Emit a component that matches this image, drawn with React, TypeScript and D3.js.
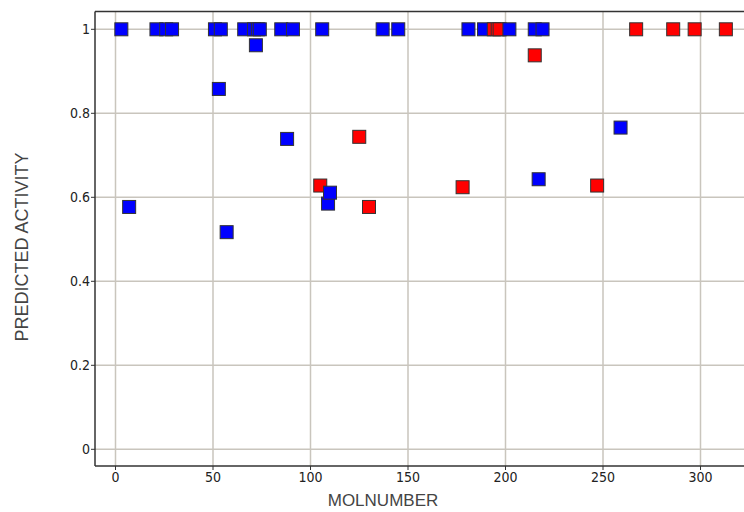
import React from "react";
import * as d3 from "d3";

// Molecule index vs predicted activity, split by class
const blueMol = [3, 7, 21, 26, 29, 51, 53, 54, 57, 66, 71, 72, 73, 74, 85, 88, 91, 106, 109, 110, 137, 145, 181, 189, 202, 215, 217, 219, 259];
const blueAct = [1, 0.577, 1, 1, 1, 1, 0.858, 1, 0.517, 1, 1, 0.962, 1, 1, 1, 0.739, 1, 1, 0.585, 0.611, 1, 1, 1, 1, 1, 1, 0.643, 1, 0.766];
const redMol = [105, 125, 130, 178, 194, 196, 197, 215, 247, 267, 286, 297, 313];
const redAct = [0.628, 0.744, 0.577, 0.624, 1, 1, 1, 0.938, 0.628, 1, 1, 1, 1];

const xTicks = [0, 50, 100, 150, 200, 250, 300];
const yTicks = [0, 0.2, 0.4, 0.6, 0.8, 1];
const yTickLabels = ["0", "0.2", "0.4", "0.6", "0.8", "1"];

const W = 744;
const H = 512;
const frameLeft = 95;
const frameTop = 11.5;
const frameBottom = 466;
const frameRight = 770;

const tickFont = "'Liberation Sans Narrow', 'DejaVu Sans Condensed', 'Arial Narrow', sans-serif";
const titleFont = "'Liberation Sans', Arial, sans-serif";

export default function App() {
  const x = d3.scaleLinear().domain([0, 300]).range([115.5, 700.5]);
  const y = d3.scaleLinear().domain([0, 1]).range([449.3, 29.3]);

  const points = [
    ...blueMol.map((m, i) => ({ m, a: blueAct[i], c: "#0000ff" })),
    ...redMol.map((m, i) => ({ m, a: redAct[i], c: "#ff0000" })),
  ].sort((p, q) => d3.ascending(p.m, q.m));

  const s = 13;

  return (
    <svg
      width={W}
      height={H}
      style={{ position: "absolute", left: 0, top: 0, background: "#fff", display: "block" }}
    >
      <defs>
        <clipPath id="plotArea">
          <rect x={frameLeft} y={frameTop} width={frameRight - frameLeft} height={frameBottom - frameTop} />
        </clipPath>
      </defs>

      {/* grid */}
      <g stroke="#c9c5bd" strokeWidth={1.5}>
        {xTicks.map((t) => (
          <line key={"gx" + t} x1={x(t)} x2={x(t)} y1={frameTop} y2={frameBottom} />
        ))}
        {yTicks.map((t) => (
          <line key={"gy" + t} x1={frameLeft} x2={frameRight} y1={y(t)} y2={y(t)} />
        ))}
      </g>

      {/* frame */}
      <g stroke="#333" strokeWidth={1.5} fill="none">
        <line x1={frameLeft} x2={frameLeft} y1={frameTop} y2={frameBottom} />
        <line x1={frameLeft} x2={frameRight} y1={frameBottom} y2={frameBottom} />
        <line x1={frameLeft} x2={frameRight} y1={frameTop} y2={frameTop} />
      </g>

      {/* ticks */}
      <g stroke="#333" strokeWidth={1}>
        {xTicks.map((t) => (
          <line key={"tx" + t} x1={x(t)} x2={x(t)} y1={frameBottom} y2={frameBottom + 4} />
        ))}
        {yTicks.map((t) => (
          <line key={"ty" + t} x1={frameLeft - 4} x2={frameLeft} y1={y(t)} y2={y(t)} />
        ))}
      </g>

      {/* tick labels */}
      <g fontFamily={tickFont} fontSize={14} fill="#222">
        {xTicks.map((t) => (
          <text key={"lx" + t} x={x(t)} y={482} textAnchor="middle">
            {t}
          </text>
        ))}
        {yTicks.map((t, i) => (
          <text key={"ly" + t} x={frameLeft - 5} y={y(t)} dy="0.35em" textAnchor="end">
            {yTickLabels[i]}
          </text>
        ))}
      </g>

      {/* axis titles */}
      <text
        x={383}
        y={506}
        textAnchor="middle"
        fontFamily={titleFont}
        fontSize={17}
        fill="#444"
      >
        MOLNUMBER
      </text>
      <text
        transform={`translate(28, 247) rotate(-90)`}
        textAnchor="middle"
        fontFamily={titleFont}
        fontSize={18}
        fill="#444"
      >
        PREDICTED ACTIVITY
      </text>

      {/* points */}
      <g clipPath="url(#plotArea)">
        {points.map((p, i) => (
          <rect
            key={i}
            x={x(p.m) - s / 2}
            y={y(p.a) - s / 2}
            width={s}
            height={s}
            fill={p.c}
            stroke="#333"
            strokeWidth={1}
          />
        ))}
      </g>
    </svg>
  );
}
